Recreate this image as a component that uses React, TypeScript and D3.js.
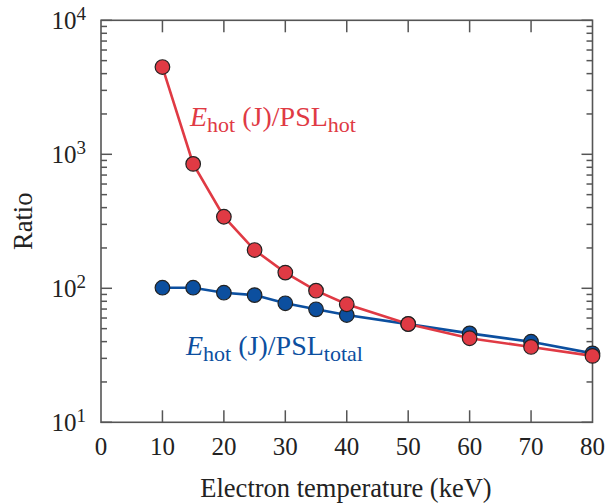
import React from "react";
import * as d3 from "d3";

const temperatures = [10, 15, 20, 25, 30, 35, 40, 50, 60, 70, 80];
const ratioHot = [4480, 848, 342, 193, 131, 96, 76, 54.2, 42.4, 36.5, 31.3];
const ratioTotal = [101, 101, 92.7, 89, 77.3, 69.7, 63.2, 54, 46.1, 39.9, 32.7];
const xTicks = [0, 10, 20, 30, 40, 50, 60, 70, 80];
const yDecades = [1, 2, 3, 4];

const W = 608;
const H = 504;
const left = 101;
const right = 592.5;
const top = 20.3;
const bottom = 422.3;

const RED = "#e03a44";
const BLUE = "#0c4f9f";
const AXIS = "#555";
const INK = "#222";
const FONT = "Liberation Serif, Times New Roman, Tinos, DejaVu Serif, serif";
const serif = { fontFamily: FONT };

export default function App() {
  const x = d3.scaleLinear().domain([0, 80]).range([left, right]);
  const y = d3.scaleLog().domain([10, 10000]).range([bottom, top]);

  const line = d3
    .line<[number, number]>()
    .x((d) => x(d[0]))
    .y((d) => y(d[1]));

  const hotPts: [number, number][] = temperatures.map((t, i) => [t, ratioHot[i]]);
  const totPts: [number, number][] = temperatures.map((t, i) => [t, ratioTotal[i]]);

  const minor: number[] = [];
  for (let e = 1; e < 4; e++) {
    for (let m = 2; m <= 9; m++) minor.push(m * Math.pow(10, e));
  }

  return (
    <svg width={W} height={H} style={{ position: "absolute", left: 0, top: 0, ...serif }}>
      <rect width={W} height={H} fill="#fff" />
      {/* frame */}
      <rect
        x={left}
        y={top}
        width={right - left}
        height={bottom - top}
        fill="none"
        stroke={AXIS}
        strokeWidth={1.6}
      />
      {/* x ticks */}
      {xTicks.slice(1, -1).map((t) => (
        <g key={"xt" + t} stroke={AXIS} strokeWidth={1.5}>
          <line x1={x(t)} x2={x(t)} y1={bottom} y2={bottom - 12} />
          <line x1={x(t)} x2={x(t)} y1={top} y2={top + 12} />
        </g>
      ))}
      {/* y ticks */}
      {yDecades.map((e) => {
        const v = Math.pow(10, e);
        return (
          <g key={"yd" + e} stroke={AXIS} strokeWidth={1.5}>
            <line x1={left} x2={left + 11} y1={y(v)} y2={y(v)} />
            <line x1={right} x2={right - 11} y1={y(v)} y2={y(v)} />
          </g>
        );
      })}
      {minor.map((v) => (
        <g key={"ym" + v} stroke={AXIS} strokeWidth={1.5}>
          <line x1={left} x2={left + 6} y1={y(v)} y2={y(v)} />
          <line x1={right} x2={right - 6} y1={y(v)} y2={y(v)} />
        </g>
      ))}
      {/* x tick labels */}
      {xTicks.map((t) => (
        <text
          key={"xl" + t}
          x={x(t)}
          y={455}
          textAnchor="middle"
          style={serif}
          fontSize={25}
          fill={INK}
        >
          {t}
        </text>
      ))}
      {/* y tick labels */}
      {yDecades.map((e) => (
        <text
          key={"yl" + e}
          x={86}
          y={y(Math.pow(10, e)) + 9}
          textAnchor="end"
          style={serif}
          fontSize={25}
          fill={INK}
        >
          10
          <tspan dy={-9} fontSize={19}>
            {e}
          </tspan>
        </text>
      ))}
      {/* axis titles */}
      <text
        x={346}
        y={497}
        textAnchor="middle"
        style={serif}
        fontSize={26.5}
        fill={INK}
      >
        Electron temperature (keV)
      </text>
      <text
        transform={`translate(32,${(top + bottom) / 2}) rotate(-90)`}
        textAnchor="middle"
        style={serif}
        fontSize={26.5}
        fill={INK}
      >
        Ratio
      </text>
      {/* series */}
      <path d={line(totPts) || ""} fill="none" stroke={BLUE} strokeWidth={2.6} />
      <path d={line(hotPts) || ""} fill="none" stroke={RED} strokeWidth={2.6} />
      {totPts.map((p, i) => (
        <circle
          key={"tb" + i}
          cx={x(p[0])}
          cy={y(p[1])}
          r={7.3}
          fill={BLUE}
          stroke={INK}
          strokeWidth={1.2}
        />
      ))}
      {hotPts.map((p, i) => (
        <circle
          key={"hr" + i}
          cx={x(p[0])}
          cy={y(p[1])}
          r={7.3}
          fill={RED}
          stroke={INK}
          strokeWidth={1.2}
        />
      ))}
      {/* series labels */}
      <text x={190} y={126} style={serif} fontSize={28} fill={RED}>
        <tspan fontStyle="italic">E</tspan>
        <tspan dy={6} fontSize={22}>hot</tspan>
        <tspan dy={-6}> (J)/PSL</tspan>
        <tspan dy={6} fontSize={22}>hot</tspan>
      </text>
      <text x={186} y={355} style={serif} fontSize={28} fill={BLUE}>
        <tspan fontStyle="italic">E</tspan>
        <tspan dy={6} fontSize={22}>hot</tspan>
        <tspan dy={-6}> (J)/PSL</tspan>
        <tspan dy={6} fontSize={22}>total</tspan>
      </text>
    </svg>
  );
}
